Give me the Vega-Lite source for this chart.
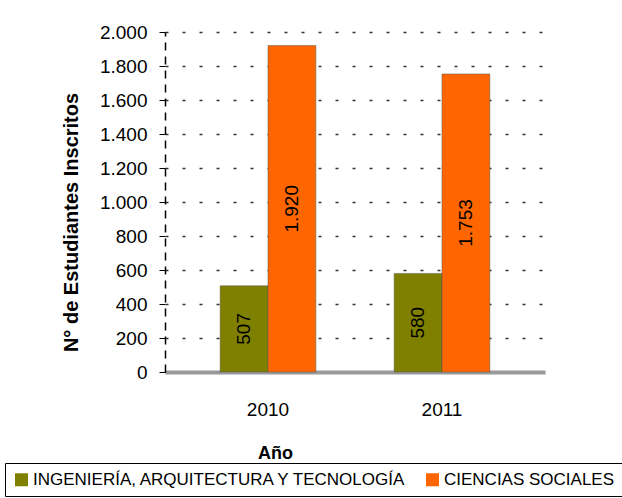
{
  "$schema": "https://vega.github.io/schema/vega-lite/v6.json",
  "width": 380,
  "height": 340,
  "autosize": {"type": "none"},
  "padding": {"left": 165, "top": 32, "right": 77, "bottom": 126},
  "background": "white",
  "config": {
    "font": "Liberation Sans",
    "view": {"stroke": null},
    "locale": {"number": {"decimal": ",", "thousands": ".", "grouping": [3], "currency": ["", " €"]}},
    "axisY": {
      "titleFontSize": 20, "titleFontWeight": "bold",
      "titleColor": "black", "titlePadding": 18, "titleY": 190,
      "values": [0, 200, 400, 600, 800, 1000, 1200, 1400, 1600, 1800, 2000],
      "labelOverlap": false,
      "format": ",d", "labelFontSize": 19, "labelColor": "black", "labelPadding": 12,
      "tickColor": "black", "tickSize": 6,
      "domainColor": "black", "domainDash": [8, 6], "domainWidth": 1.5,
      "grid": true, "gridColor": "#333333", "gridDash": [3, 14], "gridWidth": 1.5
    }
  },
  "data": {
    "values": [
      {"Año": "2010", "Área": "INGENIERÍA, ARQUITECTURA Y TECNOLOGÍA", "Inscritos": 507},
      {"Año": "2010", "Área": "CIENCIAS SOCIALES", "Inscritos": 1920},
      {"Año": "2011", "Área": "INGENIERÍA, ARQUITECTURA Y TECNOLOGÍA", "Inscritos": 580},
      {"Año": "2011", "Área": "CIENCIAS SOCIALES", "Inscritos": 1753}
    ]
  },
  "encoding": {
    "x": {
      "field": "Año", "type": "nominal",
      "scale": {"paddingInner": 0.45, "paddingOuter": 0.317},
      "axis": {
        "title": "Año", "titleFontSize": 18, "titleFontWeight": "bold", "titleColor": "black",
        "titleX": 110, "titleAlign": "center",
        "labelAngle": 0, "labelFontSize": 19, "labelColor": "black", "labelPadding": 28,
        "titlePadding": 25, "ticks": false, "domainColor": "#999999", "domainWidth": 4
      }
    },
    "xOffset": {"field": "Área", "type": "nominal", "sort": ["INGENIERÍA, ARQUITECTURA Y TECNOLOGÍA", "CIENCIAS SOCIALES"], "scale": {"paddingInner": 0}}
  },
  "layer": [
    {
      "mark": {"type": "bar", "stroke": "#555555", "strokeWidth": 0.5},
      "encoding": {
        "y": {
          "field": "Inscritos", "type": "quantitative",
          "scale": {"domain": [0, 2000]},
          "axis": {"title": "N° de Estudiantes Inscritos"}
        },
        "color": {
          "field": "Área", "type": "nominal",
          "sort": ["INGENIERÍA, ARQUITECTURA Y TECNOLOGÍA", "CIENCIAS SOCIALES"],
          "scale": {"range": ["#808000", "#FF6600"]},
          "legend": {
            "title": null, "orient": "none", "legendX": -160, "legendY": 431,
            "direction": "horizontal", "columns": 2,
            "strokeColor": "black", "padding": 8,
            "symbolType": "square", "symbolSize": 169, "symbolStrokeWidth": 0,
            "labelFontSize": 17, "labelColor": "black", "labelOffset": 3, "columnPadding": 16,
            "labelLimit": 0
          }
        }
      }
    },
    {
      "transform": [{"calculate": "datum.Inscritos / 2", "as": "mitad"}],
      "mark": {"type": "text", "angle": -90, "fontSize": 19, "color": "black", "align": "center", "baseline": "middle"},
      "encoding": {
        "y": {"field": "mitad", "type": "quantitative", "axis": {"title": "N° de Estudiantes Inscritos"}},
        "text": {"field": "Inscritos", "type": "quantitative", "format": ",d"}
      }
    }
  ]
}
